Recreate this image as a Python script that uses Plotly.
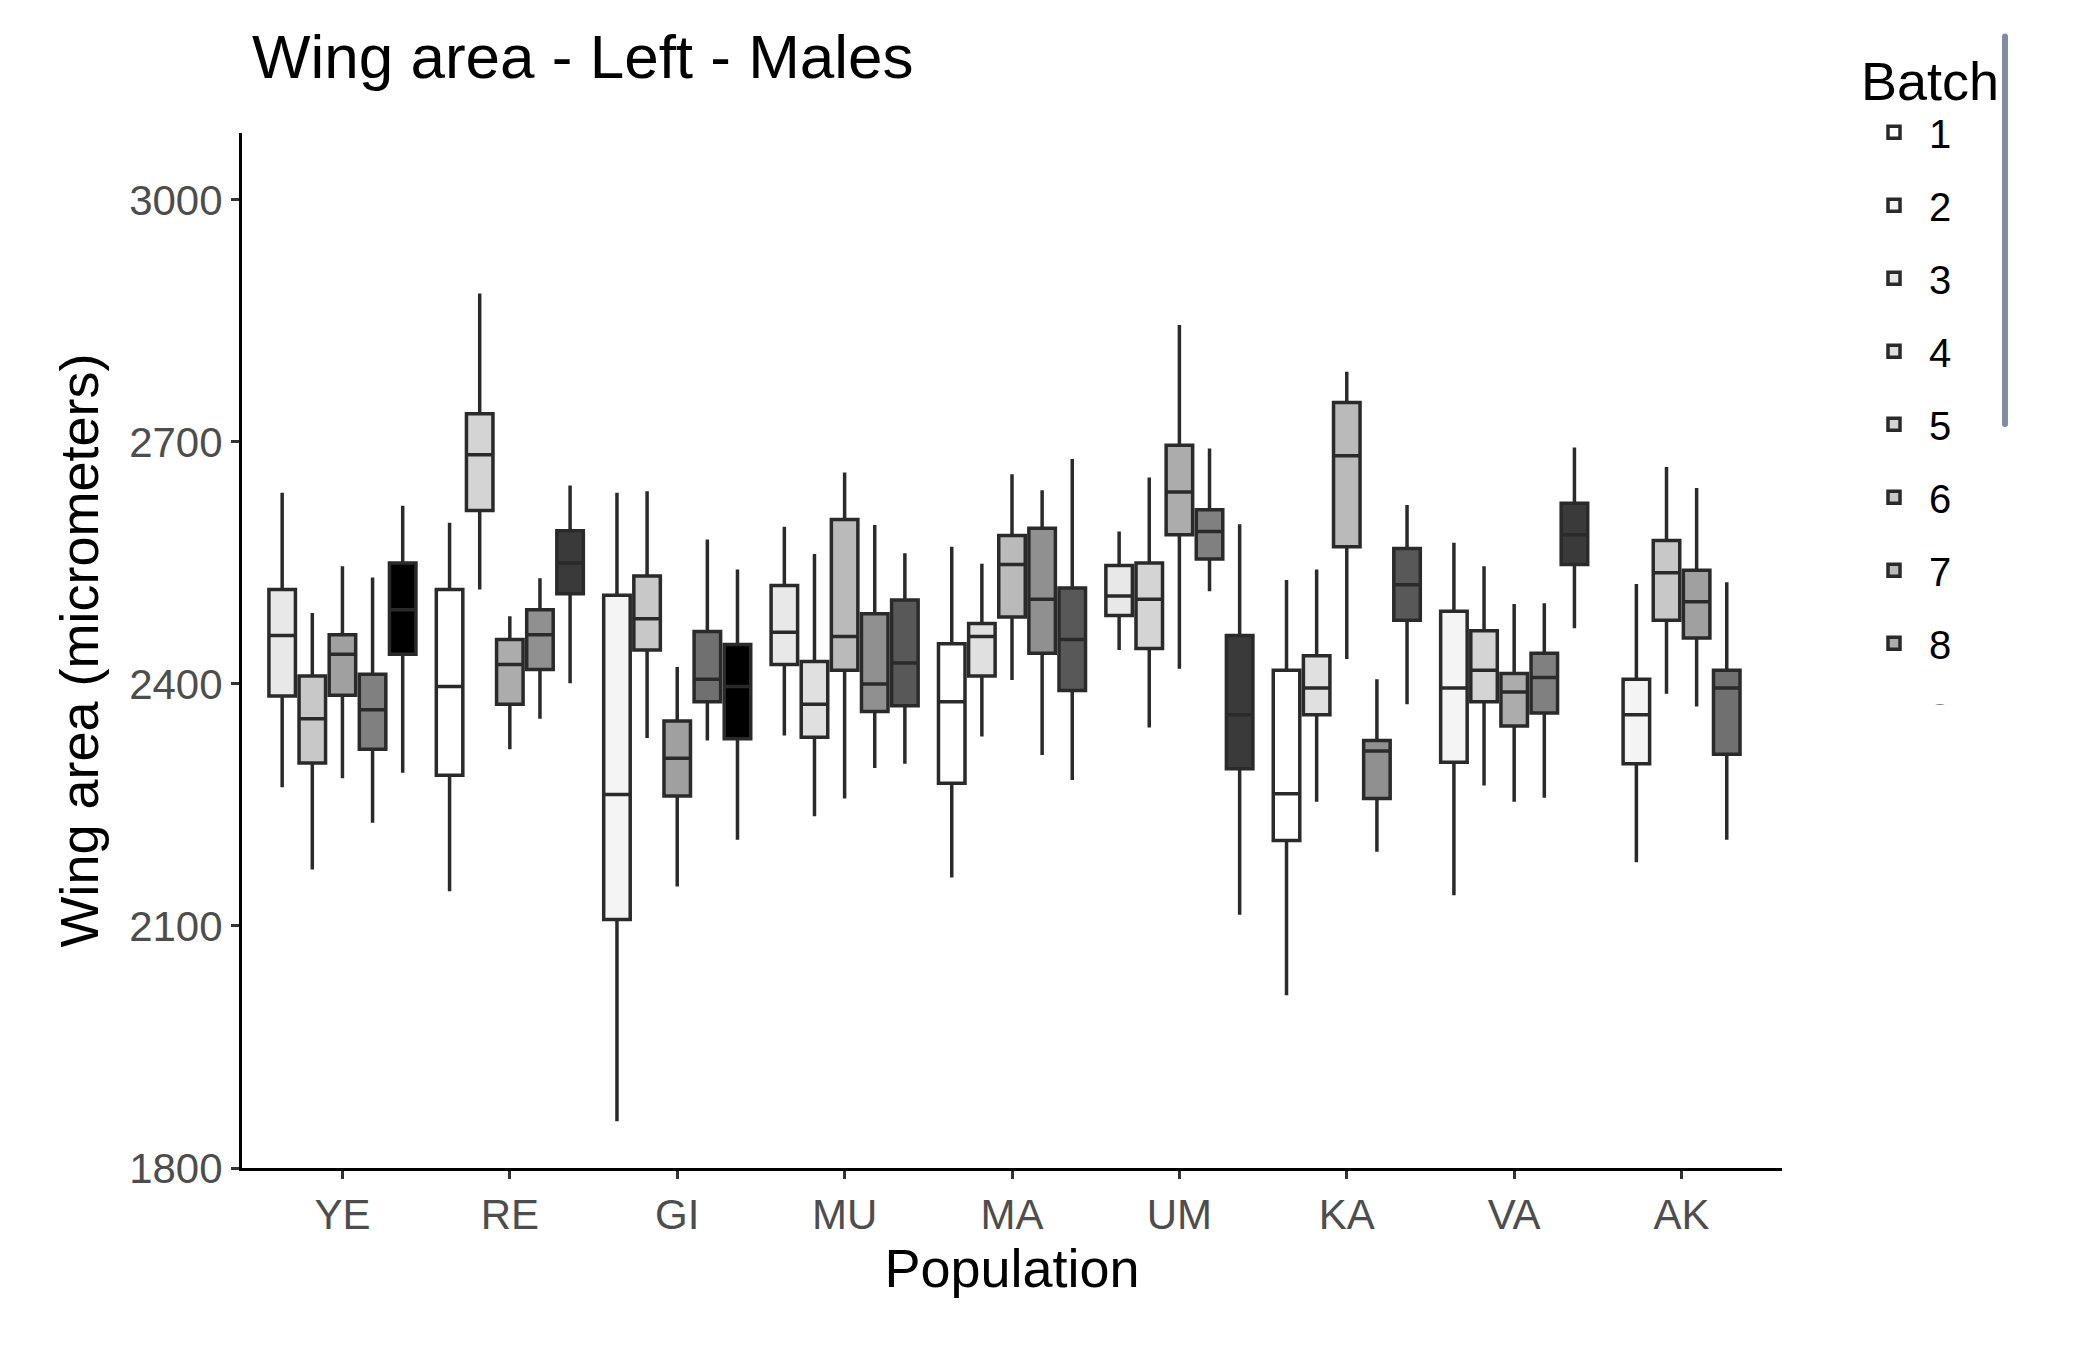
import plotly.graph_objects as go

# populations and the batches that appear in each (in dodge order)
populations = ['YE', 'RE', 'GI', 'MU', 'MA', 'UM', 'KA', 'VA', 'AK']
batches = [
    [3, 6, 9, 11, 15],
    [1, 5, 8, 10, 14],
    [2, 6, 9, 12, 15],
    [3, 4, 7, 10, 13],
    [1, 4, 7, 10, 13],
    [3, 5, 8, 11, 14],
    [1, 4, 7, 10, 13],
    [2, 5, 8, 11, 14],
    [2, 6, 9, 12],
]

# box stats per population, per box: lower whisker, q1, median, q3, upper whisker
lower = [
    [2272, 2170, 2283, 2228, 2290],
    [2143, 2517, 2319, 2357, 2401],
    [1858, 2333, 2149, 2330, 2207],
    [2336, 2236, 2258, 2296, 2301],
    [2160, 2335, 2405, 2312, 2281],
    [2442, 2346, 2419, 2515, 2114],
    [2014, 2254, 2431, 2192, 2375],
    [2138, 2274, 2254, 2259, 2469],
    [2179, 2388, 2372, 2207],
]
q1 = [
    [2385, 2302, 2386, 2319, 2437],
    [2287, 2615, 2375, 2418, 2512],
    [2108, 2442, 2261, 2378, 2332],
    [2424, 2334, 2417, 2366, 2373],
    [2277, 2410, 2483, 2438, 2392],
    [2485, 2444, 2585, 2555, 2295],
    [2206, 2362, 2570, 2258, 2479],
    [2303, 2378, 2348, 2364, 2548],
    [2301, 2479, 2457, 2313],
]
median = [
    [2460, 2357, 2437, 2368, 2492],
    [2397, 2684, 2424, 2461, 2550],
    [2263, 2481, 2308, 2406, 2397],
    [2464, 2375, 2459, 2400, 2426],
    [2378, 2459, 2548, 2505, 2455],
    [2509, 2505, 2638, 2589, 2362],
    [2264, 2395, 2683, 2317, 2523],
    [2395, 2417, 2390, 2408, 2585],
    [2362, 2538, 2502, 2395],
]
q3 = [
    [2517, 2410, 2461, 2412, 2550],
    [2517, 2735, 2455, 2492, 2590],
    [2510, 2534, 2354, 2465, 2449],
    [2522, 2428, 2604, 2487, 2504],
    [2450, 2475, 2584, 2593, 2519],
    [2547, 2550, 2696, 2616, 2460],
    [2417, 2435, 2749, 2330, 2568],
    [2490, 2466, 2413, 2438, 2624],
    [2406, 2578, 2541, 2417],
]
upper = [
    [2637, 2488, 2546, 2532, 2621],
    [2600, 2884, 2484, 2531, 2646],
    [2637, 2639, 2421, 2579, 2542],
    [2595, 2561, 2662, 2597, 2562],
    [2570, 2549, 2660, 2640, 2679],
    [2589, 2656, 2845, 2692, 2598],
    [2529, 2542, 2787, 2406, 2622],
    [2575, 2546, 2499, 2500, 2693],
    [2524, 2669, 2643, 2526],
]

# grey fill for batches 1..15
batch_fill = ['#ffffff', '#f4f4f4', '#e8e8e8', '#e0e0e0', '#d4d4d4',
              '#c8c8c8', '#bababa', '#acacac', '#a0a0a0', '#909090',
              '#808080', '#707070', '#585858', '#3a3a3a', '#000000']

dodge = 0.9
n_slots = max(len(b) for b in batches)
slot = dodge / n_slots

fig = go.Figure()
shown = set()
for i, pop in enumerate(populations):
    n = len(batches[i])
    for j, b in enumerate(batches[i]):
        xpos = i + (j - (n - 1) / 2) * slot
        fig.add_trace(go.Box(
            x=[xpos], q1=[q1[i][j]], median=[median[i][j]], q3=[q3[i][j]],
            lowerfence=[lower[i][j]], upperfence=[upper[i][j]],
            name=str(b), legendgroup=str(b), legendrank=b,
            showlegend=b not in shown,
            width=slot * 0.88, whiskerwidth=0,
            fillcolor=batch_fill[b - 1],
            line=dict(color='#2a2a2a', width=3.5),
            boxpoints=False, hoverinfo='skip',
        ))
        shown.add(b)

font = 'Liberation Sans, Arial, sans-serif'
fig.update_layout(
    width=2100, height=1350,
    paper_bgcolor='white', plot_bgcolor='white',
    font=dict(family=font, color='black'),
    margin=dict(l=234, r=326, t=125, b=190),
    title=dict(text='Wing area - Left - Males', x=244 / 2100, xanchor='left',
               y=0.98, yanchor='top', font=dict(size=62)),
    showlegend=True,
    legend=dict(title=dict(text='Batch', font=dict(size=54)),
                font=dict(size=40), x=1.05, xanchor='left', y=1.1, yanchor='top',
                tracegroupgap=18, itemwidth=60),
)
fig.update_xaxes(
    range=[-0.6, 8.6], tickvals=list(range(len(populations))), ticktext=populations,
    showgrid=False, zeroline=False, showline=True, linecolor='black', linewidth=3,
    ticks='outside', ticklen=8, tickwidth=3, tickcolor='#333',
    tickfont=dict(size=42, color='#4d4d4d'),
    title=dict(text='Population', font=dict(size=54), standoff=12),
)
fig.update_yaxes(
    range=[1800, 3083], tickvals=[1800, 2100, 2400, 2700, 3000],
    showgrid=False, zeroline=False, showline=True, linecolor='black', linewidth=3,
    ticks='outside', ticklen=8, tickwidth=3, tickcolor='#333',
    tickfont=dict(size=42, color='#4d4d4d'),
    title=dict(text='Wing area (micrometers)', font=dict(size=54), standoff=14),
)

fig.write_html('out.html')
